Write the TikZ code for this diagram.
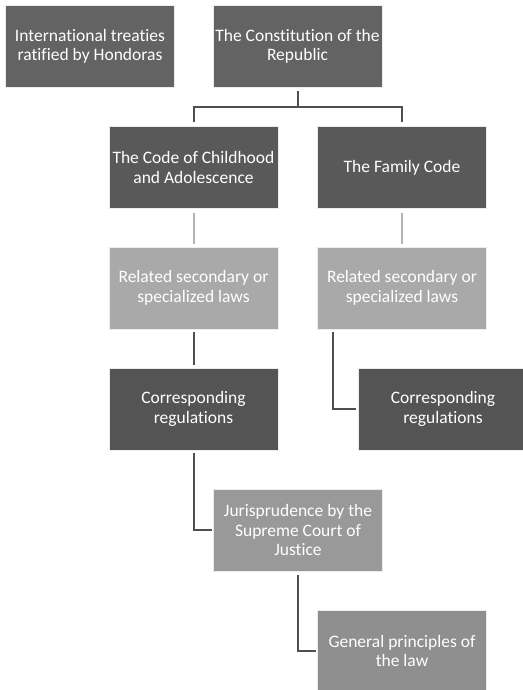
\documentclass[tikz,border=0pt]{standalone}
\usepackage{fontspec}
\setmainfont{Carlito}[Ligatures=NoCommon]
\definecolor{gA}{HTML}{636363}
\definecolor{gB}{HTML}{595959}
\definecolor{gC}{HTML}{A9A9A9}
\definecolor{gD}{HTML}{545454}
\definecolor{gE}{HTML}{999999}
\definecolor{gF}{HTML}{8F8F8F}
\definecolor{lnD}{HTML}{4F4F4F}
\definecolor{lnL}{HTML}{B3B3B3}
\begin{document}
\begin{tikzpicture}[x=1pt,y=-1pt,
  box/.style={draw=white!85!gray, line width=0.6pt, minimum width=169pt, minimum height=82pt,
    text=white, align=center, inner sep=0pt, font=\fontsize{17.5}{19.5}\selectfont},
  conn/.style={draw=lnD, line width=2pt},
  lconn/.style={draw=lnL, line width=2pt}]
\useasboundingbox (0,0) rectangle (522,690);
\fill[white] (0,0) rectangle (522,690);
\node[box, fill=gA] (b1) at (90,46.5) {International treaties\\ratified by Hondoras};
\node[box, fill=gA] (b2) at (297.5,46.5) {The Constitution of the\\Republic};
\node[box, fill=gB] (b3) at (193.5,167.5) {The Code of Childhood\\and Adolescence};
\node[box, fill=gB] (b4) at (402,167.5) {The Family Code};
\node[box, fill=gC] (b5) at (193.5,288) {Related secondary or\\specialized laws};
\node[box, fill=gC] (b6) at (402,288) {Related secondary or\\specialized laws};
\node[box, fill=gD] (b7) at (193.5,409) {Corresponding\\regulations};
\node[box, fill=gD] (b8) at (443,409) {Corresponding\\regulations};
\node[box, fill=gE] (b9) at (298,530) {Jurisprudence by the\\Supreme Court of\\Justice};
\node[box, fill=gF] (b10) at (402,651) {General principles of\\the law};
% tree from constitution
\draw[conn, shorten <=3pt] (b2.south) -- ++(0,19) coordinate (m);
\draw[conn, shorten >=4pt] (m) -| (b3.north);
\draw[conn, shorten >=4pt] (m) -| (b4.north);
% light links
\draw[lconn, shorten <=4pt, shorten >=3pt] (b3.south) -- (b5.north);
\draw[lconn, shorten <=4pt, shorten >=3pt] (b4.south) -- (b6.north);
% dark links
\draw[conn, shorten <=3pt, shorten >=3pt] (b5.south) -- (b7.north);
\path (b6.south west) ++(16,0) coordinate (c6);
\draw[conn, shorten <=3pt, shorten >=2pt] (c6) |- (b8.west);
\draw[conn, shorten <=3pt, shorten >=1pt] (b7.south) |- (b9.west);
\draw[conn, shorten <=4pt, shorten >=1pt] (b9.south) |- (b10.west);
\end{tikzpicture}
\end{document}
